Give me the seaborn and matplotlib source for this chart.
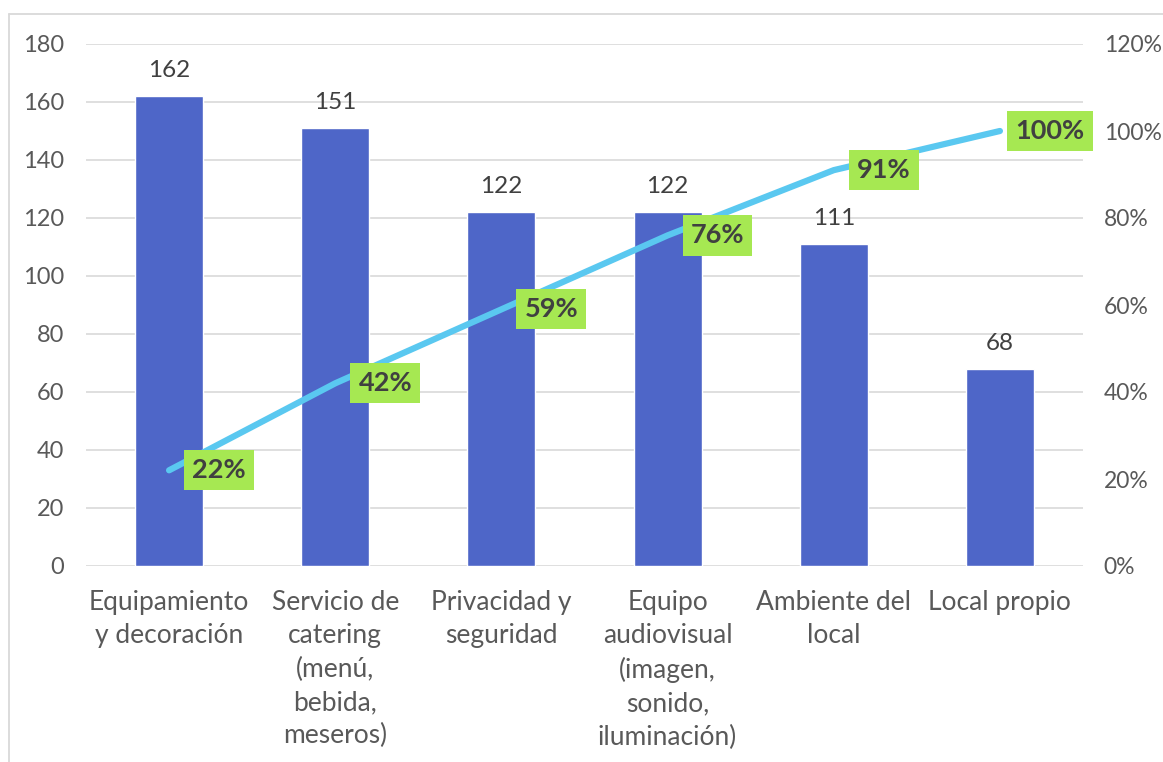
import matplotlib
matplotlib.use("Agg")
import matplotlib.pyplot as plt
import matplotlib.ticker as mticker
from matplotlib.lines import Line2D
import numpy as np
import pandas as pd
import seaborn as sns

# Pareto data: counts per factor and cumulative share
categories = [
    "Equipamiento\ny decoración",
    "Servicio de\ncatering\n(menú,\nbebida,\nmeseros)",
    "Privacidad y\nseguridad",
    "Equipo\naudiovisual\n(imagen,\nsonido,\niluminación)",
    "Ambiente del\nlocal",
    "Local propio",
]
counts = [162, 151, 122, 122, 111, 68]
cumulative_pct = [0.22, 0.42, 0.59, 0.76, 0.91, 1.00]

left_ticks = [0, 20, 40, 60, 80, 100, 120, 140, 160, 180]
right_ticks = [0.0, 0.2, 0.4, 0.6, 0.8, 1.0, 1.2]

BAR = "#4E66C8"
LINE = "#5AC8F0"
BOX = "#A6E852"
TXT = "#595959"
DARK = "#404040"
GRID = "#D9D9D9"

sns.set_theme(style="white")
plt.rcParams["font.family"] = ["Lato", "DejaVu Sans"]

df = pd.DataFrame({"cat": categories, "count": counts, "cum": cumulative_pct})

fig = plt.figure(figsize=(11.63, 7.62), dpi=100)
ax = fig.add_axes([86 / 1163, 1 - 566 / 762, (1083 - 86) / 1163, (566 - 44) / 762])

sns.barplot(data=df, x="cat", y="count", color=BAR, width=0.41, saturation=1,
            ax=ax, zorder=2)
ax.set_xlim(-0.5, len(categories) - 0.5)
ax.set_ylim(0, 180)
ax.set_yticks(left_ticks)
ax.yaxis.grid(True, color=GRID, linewidth=1.2, zorder=0)
ax.set_axisbelow(True)
for s in ax.spines.values():
    s.set_visible(False)
ax.set_xlabel("")
ax.set_ylabel("")
ax.tick_params(axis="y", length=0, pad=16, labelsize=17, labelcolor=TXT)
ax.tick_params(axis="x", length=0, pad=17, labelsize=19, labelcolor=TXT)
for lbl in ax.get_xticklabels():
    lbl.set_linespacing(1.42)
    lbl.set_verticalalignment("top")

for i, v in enumerate(counts):
    ax.annotate(str(v), (i, v), xytext=(0, 11), textcoords="offset points",
                ha="center", va="bottom", fontsize=17.5, color=DARK)

ax2 = ax.twinx()
ax2.set_ylim(0, 1.2)
ax2.set_yticks(right_ticks)
ax2.yaxis.set_major_formatter(mticker.PercentFormatter(1.0, decimals=0))
ax2.tick_params(axis="y", length=0, pad=15, labelsize=16.5, labelcolor=TXT)
for s in ax2.spines.values():
    s.set_visible(False)
ax2.grid(False)

sns.lineplot(x=np.arange(len(categories)), y=cumulative_pct, ax=ax2, color=LINE,
             linewidth=4.5, solid_capstyle="round")
ax2.set_xlim(-0.5, len(categories) - 0.5)

for i, p in enumerate(cumulative_pct):
    ax2.annotate(f"{p:.0%}", (i, p), xytext=(36, 0), textcoords="offset points",
                 ha="center", va="center", fontsize=19.5, fontweight="bold",
                 color=DARK,
                 bbox=dict(boxstyle="square,pad=0.3", fc=BOX, ec="none"))

# chart-area frame (top and left edges)
fig.add_artist(Line2D([9 / 1163, 1], [1 - 14 / 762, 1 - 14 / 762],
                      transform=fig.transFigure, color="#D9D9D9", lw=1.3))
fig.add_artist(Line2D([9 / 1163, 9 / 1163], [0, 1 - 14 / 762],
                      transform=fig.transFigure, color="#D9D9D9", lw=1.3))

fig.savefig("out.png", dpi=100, facecolor="white")
